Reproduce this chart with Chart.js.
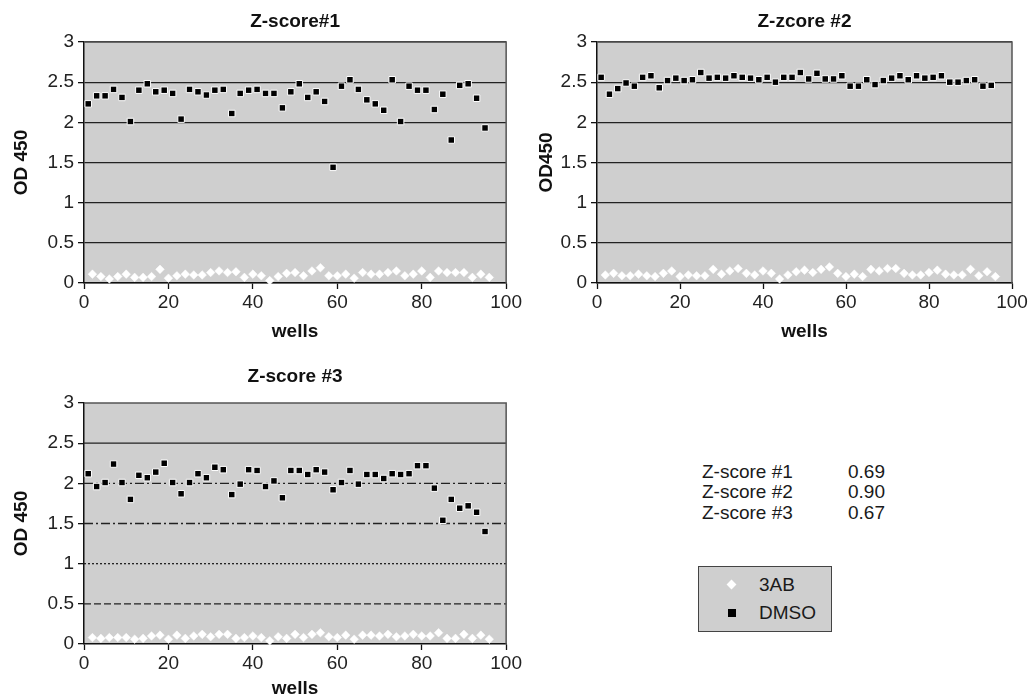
<!DOCTYPE html>
<html>
<head>
<meta charset="utf-8">
<script src="https://cdn.jsdelivr.net/npm/chart.js@4.4.1/dist/chart.umd.min.js"></script>
<style>
  body { margin: 0; background: #fff; font-family: "Liberation Sans", Arial, sans-serif; color: #1a1a1a; }
  #wrap { position: relative; width: 1036px; height: 700px; overflow: hidden; }
  canvas { position: absolute; }
  .zs { position: absolute; left: 702px; font-size: 19px; line-height: 20px; }
  .zs span { position: absolute; left: 146px; }
  #legend { position: absolute; left: 698px; top: 566px; width: 132px; height: 64px;
            background: #cfcfcf; border: 1.5px solid #444; }
  .lg { position: absolute; left: 60px; font-size: 19px; line-height: 20px; }
  .dia { position: absolute; left: 29px; width: 7px; height: 7px; background: #fff; transform: rotate(45deg); }
  .sq { position: absolute; left: 29px; width: 8px; height: 8px; background: #000; }
</style>
</head>
<body>
<div id="wrap">
  <canvas id="c1" width="524" height="345" style="left:0;top:0"></canvas>
  <canvas id="c2" width="516" height="345" style="left:520px;top:0"></canvas>
  <canvas id="c3" width="524" height="362" style="left:0;top:340px"></canvas>

  <div class="zs" style="top:462px">Z-score #1<span>0.69</span></div>
  <div class="zs" style="top:482px">Z-score #2<span>0.90</span></div>
  <div class="zs" style="top:503px">Z-score #3<span>0.67</span></div>

  <div id="legend">
    <div class="dia" style="top:14px"></div><div class="lg" style="top:8px">3AB</div>
    <div class="sq" style="top:42px"></div><div class="lg" style="top:36px">DMSO</div>
  </div>
</div>

<script>
// wells holding DMSO controls (odd) and 3AB controls (even)
const dmsoWells = [1,3,5,7,9,11,13,15,17,19,21,23,25,27,29,31,33,35,37,39,41,43,45,47,
                   49,51,53,55,57,59,61,63,65,67,69,71,73,75,77,79,81,83,85,87,89,91,93,95];
const abWells = [2,4,6,8,10,12,14,16,18,20,22,24,26,28,30,32,34,36,38,40,42,44,46,48,
                 50,52,54,56,58,60,62,64,66,68,70,72,74,76,78,80,82,84,86,88,90,92,94,96];

const dmso1 = [2.23,2.33,2.33,2.41,2.31,2.01,2.40,2.48,2.38,2.40,2.36,2.04,2.41,2.38,2.34,2.40,
               2.41,2.11,2.36,2.40,2.41,2.36,2.36,2.18,2.38,2.48,2.31,2.38,2.26,1.44,2.45,2.53,
               2.41,2.28,2.23,2.15,2.53,2.01,2.45,2.40,2.40,2.16,2.35,1.78,2.46,2.48,2.30,1.93];
const ab1 = [0.11,0.08,0.05,0.08,0.11,0.07,0.07,0.08,0.17,0.06,0.09,0.11,0.10,0.10,0.13,0.15,
             0.13,0.14,0.07,0.11,0.09,0.03,0.08,0.12,0.13,0.09,0.15,0.19,0.09,0.09,0.11,0.06,
             0.13,0.11,0.11,0.13,0.15,0.09,0.11,0.15,0.07,0.15,0.13,0.13,0.13,0.07,0.11,0.07];

const dmso2 = [2.56,2.35,2.42,2.49,2.45,2.56,2.58,2.43,2.52,2.55,2.52,2.53,2.62,2.55,2.56,2.55,
               2.58,2.56,2.55,2.53,2.56,2.50,2.56,2.56,2.62,2.54,2.61,2.54,2.54,2.58,2.45,2.45,
               2.53,2.47,2.52,2.55,2.58,2.53,2.58,2.55,2.56,2.58,2.50,2.50,2.52,2.53,2.45,2.46];
const ab2 = [0.10,0.12,0.09,0.09,0.11,0.09,0.08,0.12,0.15,0.08,0.10,0.09,0.09,0.17,0.11,0.15,
             0.18,0.12,0.10,0.15,0.12,0.05,0.10,0.14,0.16,0.13,0.17,0.20,0.12,0.08,0.11,0.08,
             0.17,0.15,0.18,0.18,0.12,0.10,0.10,0.13,0.16,0.11,0.10,0.10,0.17,0.09,0.14,0.08];

const dmso3 = [2.12,1.96,2.01,2.24,2.01,1.80,2.10,2.07,2.14,2.25,2.01,1.87,2.01,2.12,2.07,2.20,
               2.17,1.86,1.99,2.17,2.16,1.96,2.03,1.82,2.16,2.16,2.11,2.17,2.14,1.92,2.01,2.16,
               1.99,2.11,2.11,2.06,2.12,2.11,2.12,2.22,2.22,1.94,1.54,1.80,1.69,1.72,1.64,1.40];
const ab3 = [0.08,0.07,0.08,0.08,0.08,0.06,0.07,0.10,0.11,0.06,0.11,0.07,0.10,0.12,0.09,0.12,
             0.12,0.07,0.08,0.10,0.08,0.04,0.09,0.07,0.12,0.08,0.12,0.14,0.09,0.08,0.11,0.06,
             0.11,0.11,0.10,0.12,0.09,0.10,0.12,0.10,0.10,0.14,0.07,0.07,0.12,0.07,0.11,0.06];

Chart.defaults.font.family = '"Liberation Sans", Arial, sans-serif';
Chart.defaults.color = '#1a1a1a';

// gray plot area plus right/top frame
const frame = {
  id: 'frame',
  beforeDraw(chart) {
    const {ctx, chartArea: a} = chart;
    ctx.save();
    ctx.fillStyle = '#cfcfcf';
    ctx.fillRect(a.left, a.top, a.right - a.left, a.bottom - a.top);
    ctx.restore();
  },
  beforeDatasetsDraw(chart, args, o) {
    const {ctx, chartArea: a, scales: {y}} = chart;
    ctx.save();
    // third chart uses patterned grid lines
    (o.lines || []).forEach(l => {
      const py = y.getPixelForValue(l.v);
      ctx.setLineDash(l.dash);
      ctx.strokeStyle = '#222';
      ctx.lineWidth = 1.3;
      ctx.beginPath(); ctx.moveTo(a.left, py); ctx.lineTo(a.right, py); ctx.stroke();
    });
    ctx.setLineDash([]);
    ctx.strokeStyle = '#555';
    ctx.lineWidth = 1.5;
    ctx.beginPath();
    ctx.moveTo(a.left, a.top); ctx.lineTo(a.right, a.top); ctx.lineTo(a.right, a.bottom);
    ctx.stroke();
    ctx.restore();
  }
};

function makeChart(id, title, yTitle, dmso, ab, o) {
  return new Chart(document.getElementById(id), {
    type: 'scatter',
    data: {
      datasets: [
        {
          label: '3AB',
          data: abWells.map((w, i) => ({x: w, y: ab[i]})),
          pointStyle: 'rectRot',
          pointRadius: 4.3,
          backgroundColor: '#fff',
          borderColor: '#fff',
          borderWidth: 0.5,
          clip: false
        },
        {
          label: 'DMSO',
          data: dmsoWells.map((w, i) => ({x: w, y: dmso[i]})),
          pointStyle: 'rect',
          pointRadius: 4.6,
          backgroundColor: '#000',
          borderColor: '#fff',
          borderWidth: 1,
          clip: false
        }
      ]
    },
    options: {
      responsive: false,
      animation: false,
      devicePixelRatio: 1,
      layout: { padding: { left: 0, top: 0, right: o.right, bottom: 0 } },
      plugins: {
        legend: { display: false },
        tooltip: { enabled: false },
        title: {
          display: true,
          text: title,
          fullSize: false,
          font: { size: 19, weight: 'bold' },
          color: '#111',
          padding: { top: o.tTop, bottom: o.tBottom }
        },
        frame: { lines: o.lines }
      },
      scales: {
        x: {
          type: 'linear',
          min: 0, max: 100,
          ticks: { stepSize: 20, font: { size: 19 }, padding: 2, color: '#222' },
          grid: { drawOnChartArea: false, tickLength: 6, tickColor: '#111', tickWidth: 1.3 },
          border: { color: '#111', width: 1.5 },
          title: { display: true, text: 'wells', font: { size: 19, weight: 'bold' }, color: '#111',
                   padding: { top: 0, bottom: o.xPad } },
          afterFit: s => { s.height = o.xH; }
        },
        y: {
          min: 0, max: 3,
          ticks: { stepSize: 0.5, font: { size: 19 }, padding: 4, color: '#222',
                   callback: v => String(v) },
          grid: { drawOnChartArea: !o.lines, color: '#222', lineWidth: 1.3,
                  tickLength: 6, tickColor: '#111', tickWidth: 1.3 },
          border: { color: '#111', width: 1.5 },
          title: { display: true, text: yTitle, font: { size: 19, weight: 'bold' }, color: '#111',
                   padding: { top: o.yPad, bottom: 0 } },
          afterFit: s => { s.width = o.yW; }
        }
      }
    },
    plugins: [frame]
  });
}

makeChart('c1', 'Z-score#1', 'OD 450', dmso1, ab1,
  { right: 16, tTop: 10.6, tBottom: 8.6, xH: 62, xPad: 2, yW: 84, yPad: 10 });
makeChart('c2', 'Z-zcore #2', 'OD450', dmso2, ab2,
  { right: 24, tTop: 10.6, tBottom: 8.6, xH: 62, xPad: 2, yW: 77, yPad: 15 });
makeChart('c3', 'Z-score #3', 'OD 450', dmso3, ab3,
  { right: 17, tTop: 25.6, tBottom: 14.6, xH: 58, xPad: 1.6, yW: 84, yPad: 10,
    lines: [
      { v: 2.5, dash: [] },
      { v: 2, dash: [9, 3, 2, 3] },
      { v: 1.5, dash: [9, 3, 2, 3] },
      { v: 1, dash: [2, 2] },
      { v: 0.5, dash: [7, 3] }
    ] });
</script>
</body>
</html>
